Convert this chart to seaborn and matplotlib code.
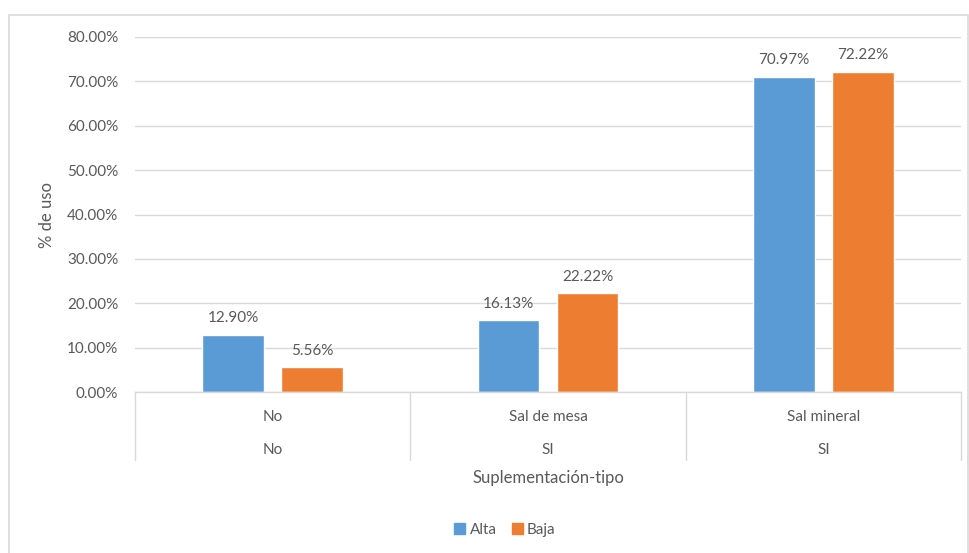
import matplotlib.pyplot as plt
import matplotlib.patches as mpatches
import matplotlib.transforms as mtransforms
import numpy as np
import pandas as pd
import seaborn as sns

# data
tipo = ["No", "Sal de mesa", "Sal mineral"]
suplementacion = ["No", "SI", "SI"]
alta = [12.90, 16.13, 70.97]
baja = [5.56, 22.22, 72.22]
series = ["Alta", "Baja"]
colors = ["#5B9BD5", "#ED7D31"]
yticks = [0, 10, 20, 30, 40, 50, 60, 70, 80]

df = pd.DataFrame({
    "tipo": tipo * 2,
    "grupo": ["Alta"] * 3 + ["Baja"] * 3,
    "valor": alta + baja,
})

sns.set_style("white")
plt.rcParams["font.family"] = ["Lato", "DejaVu Sans"]
txt = "#595959"
grid = "#D9D9D9"
fs = 11

fig = plt.figure(figsize=(9.69, 5.53), dpi=100)
ax = fig.add_axes([135 / 969, 1 - 392 / 553, (961 - 135) / 969, (392 - 37) / 553])

sns.barplot(data=df, x="tipo", y="valor", hue="grupo", order=tipo, hue_order=series,
            palette=colors, width=0.574, gap=0.216, saturation=1, ax=ax, legend=False)

ax.set_xlim(-0.5, 2.5)
ax.set_ylim(0, 80)
ax.set_yticks(yticks)
ax.set_yticklabels([f"{v:.2f}%" for v in yticks], color=txt, fontsize=fs)
ax.tick_params(axis="y", length=0, pad=12)
ax.yaxis.grid(True, color=grid, lw=1)
ax.set_axisbelow(True)
for s in ["top", "right", "left"]:
    ax.spines[s].set_visible(False)
ax.spines["bottom"].set_color(grid)
ax.spines["bottom"].set_linewidth(1)
ax.set_ylabel("")

for cont in ax.containers:
    ax.bar_label(cont, fmt="%.2f%%", padding=7, color=txt, fontsize=fs)

# multi-level category axis
ax.set_xticks([])
ax.set_xlabel("")
trans = mtransforms.blended_transform_factory(ax.transData, ax.transAxes)
sep_depth = -(460 - 392) / 355
for xs in [-0.5, 0.5, 1.5, 2.5]:
    ax.plot([xs, xs], [0, sep_depth], transform=trans, color=grid, lw=1, clip_on=False)
for i, (t, s) in enumerate(zip(tipo, suplementacion)):
    ax.text(i, -(417 - 392) / 355, t, transform=trans, ha="center", va="center",
            color=txt, fontsize=fs)
    ax.text(i, -(450 - 392) / 355, s, transform=trans, ha="center", va="center",
            color=txt, fontsize=fs)

fig.text(548 / 969, 1 - 478 / 553, "Suplementación-tipo", ha="center", va="center",
         color=txt, fontsize=12)
fig.text(47 / 969, 1 - 215 / 553, "% de uso", ha="center", va="center", rotation=90,
         color=txt, fontsize=12)

handles = [mpatches.Patch(color=c, label=l) for c, l in zip(colors, series)]
leg = fig.legend(handles=handles, loc="center", bbox_to_anchor=(505 / 969, 1 - 530 / 553),
                 ncol=2, frameon=False, handlelength=0.7, handleheight=0.7,
                 handletextpad=0.3, columnspacing=1.0, fontsize=fs)
for t in leg.get_texts():
    t.set_color(txt)

# chart area border
fig.patches.append(mpatches.Rectangle((9 / 969, -0.05), (968 - 9) / 969, 1.05 - 15 / 553,
                                      transform=fig.transFigure, fill=False,
                                      edgecolor=grid, lw=1.2))

fig.savefig("out.png", dpi=100)
